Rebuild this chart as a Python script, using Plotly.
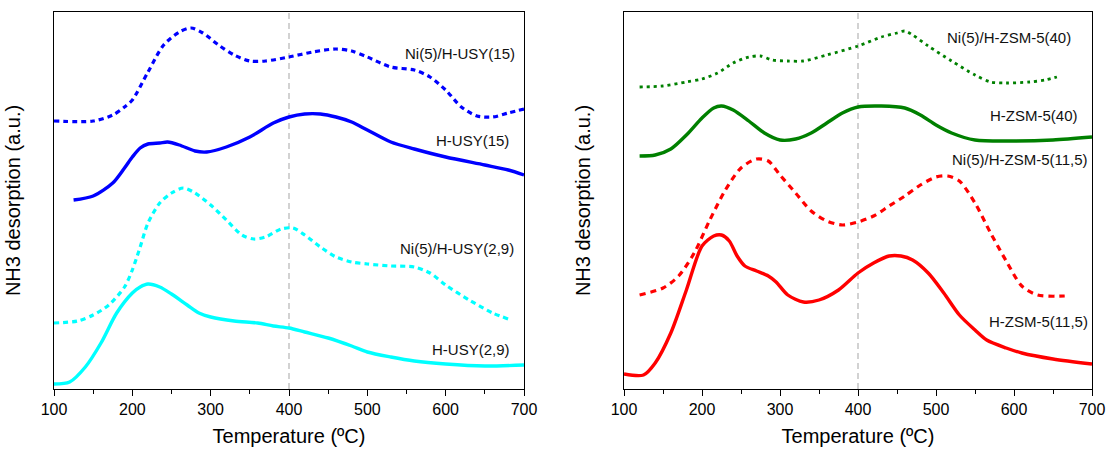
import plotly.graph_objects as go

# ---------------- Left panel: USY ----------------
T_niusy15 = [100, 150, 175, 190, 200, 220, 240, 260, 275, 290, 310, 330, 350, 370, 400, 430, 460, 480, 500, 530, 560, 580, 600, 620, 640, 660, 680, 700]
y_niusy15 = [268, 268, 274, 282, 289, 317, 344, 357, 361, 356, 344, 334, 328, 328, 332, 337, 340, 338, 332, 322, 319, 312, 299, 282, 273, 272, 276, 280]

T_usy15 = [125, 150, 175, 190, 200, 210, 220, 235, 245, 260, 280, 295, 320, 350, 380, 400, 420, 440, 460, 480, 500, 530, 560, 600, 650, 680, 700]
y_usy15 = [189, 193, 206, 221, 232, 241, 245, 246, 247, 244, 238, 237, 242, 252, 266, 272, 275, 275, 272, 267, 259, 247, 240, 232, 224, 219, 214]

T_niusy29 = [100, 130, 150, 170, 190, 200, 210, 220, 235, 250, 265, 280, 300, 320, 340, 355, 370, 390, 405, 420, 440, 460, 480, 500, 530, 560, 580, 600, 630, 660, 680]
y_niusy29 = [66, 68, 74, 84, 102, 119, 142, 166, 186, 196, 201, 196, 184, 169, 154, 150, 152, 160, 161, 154, 142, 132, 127, 125, 123, 122, 116, 104, 89, 76, 70]

T_usy29 = [100, 120, 140, 160, 180, 200, 210, 220, 235, 250, 270, 285, 300, 330, 360, 380, 400, 420, 450, 480, 500, 530, 560, 600, 650, 700]
y_usy29 = [5, 7, 22, 46, 76, 96, 102, 105, 102, 95, 84, 76, 72, 68, 66, 63, 61, 57, 51, 43, 37, 32, 28, 25, 23, 24]

# ---------------- Right panel: ZSM-5 ----------------
T_nizsm40 = [120, 150, 180, 200, 220, 240, 260, 275, 290, 310, 330, 360, 400, 430, 450, 460, 470, 490, 520, 550, 570, 590, 620, 640, 655]
y_nizsm40 = [302, 303, 307, 310, 316, 326, 332, 333, 329, 328, 328, 334, 343, 352, 356, 358, 354, 343, 328, 314, 307, 306, 307, 309, 312]

T_zsm40 = [120, 140, 160, 180, 200, 215, 225, 240, 260, 280, 300, 320, 340, 360, 380, 400, 430, 460, 480, 500, 520, 550, 600, 650, 700]
y_zsm40 = [233, 234, 240, 254, 271, 281, 283, 279, 268, 256, 249, 250, 256, 266, 276, 282, 283, 281, 274, 264, 256, 249, 248, 249, 252]

T_nizsm115 = [120, 150, 170, 190, 210, 230, 250, 270, 285, 300, 320, 340, 360, 380, 400, 420, 440, 460, 480, 500, 515, 530, 550, 570, 590, 610, 630, 665]
y_nizsm115 = [94, 101, 113, 136, 169, 199, 221, 230, 228, 214, 196, 178, 168, 164, 167, 173, 183, 193, 204, 212, 213, 208, 186, 156, 128, 103, 94, 93]

T_zsm115 = [100, 125, 140, 160, 180, 200, 215, 225, 235, 245, 255, 270, 285, 295, 310, 330, 350, 375, 400, 420, 440, 455, 470, 490, 510, 530, 550, 565, 590, 610, 650, 700]
y_zsm115 = [15, 14, 26, 56, 99, 143, 153, 154, 148, 133, 123, 118, 113, 107, 94, 87, 89, 99, 116, 126, 133, 133, 129, 116, 96, 74, 59, 49, 41, 36, 30, 25]

x_ticks = [100, 200, 300, 400, 500, 600, 700]

FONT = "Liberation Sans, Arial, sans-serif"
W, H = 1108, 453

fig = go.Figure()

def add(T, y, color, dash, width, ax):
    fig.add_trace(go.Scatter(x=T, y=y, mode="lines", xaxis="x" + ax, yaxis="y" + ax,
                             line=dict(color=color, dash=dash, width=width, shape="spline", smoothing=0.8),
                             showlegend=False, hoverinfo="skip"))

add(T_niusy15, y_niusy15, "#0000FF", "5px,4px", 3.2, "")
add(T_usy15, y_usy15, "#0000FF", "solid", 3.4, "")
add(T_niusy29, y_niusy29, "#00FFFF", "5px,4px", 3.2, "")
add(T_usy29, y_usy29, "#00FFFF", "solid", 3.4, "")

add(T_nizsm40, y_nizsm40, "#008000", "3px,4px", 2.8, "2")
add(T_zsm40, y_zsm40, "#008000", "solid", 3.4, "2")
add(T_nizsm115, y_nizsm115, "#FF0000", "6px,5px", 3.2, "2")
add(T_zsm115, y_zsm115, "#FF0000", "solid", 3.4, "2")

# vertical reference line at 400 °C
for xref, yref in (("x", "y"), ("x2", "y2")):
    fig.add_shape(type="line", xref=xref, yref=yref + " domain", x0=400, x1=400, y0=0, y1=1,
                  line=dict(color="#BBBBBB", width=1.3, dash="6px,4px"), layer="below")

labels = [
    ("x", "y", 691, 336, "Ni(5)/H-USY(15)"),
    ("x", "y", 684, 249, "H-USY(15)"),
    ("x", "y", 690, 141, "Ni(5)/H-USY(2,9)"),
    ("x", "y", 685, 40, "H-USY(2,9)"),
    ("x2", "y2", 676, 352, "Ni(5)/H-ZSM-5(40)"),
    ("x2", "y2", 685, 274, "H-ZSM-5(40)"),
    ("x2", "y2", 697, 230, "Ni(5)/H-ZSM-5(11,5)"),
    ("x2", "y2", 697, 68, "H-ZSM-5(11,5)"),
]
for xr, yr, xx, yy, txt in labels:
    fig.add_annotation(xref=xr, yref=yr, x=xx, y=yy, text=txt, showarrow=False,
                       xanchor="right", yanchor="middle",
                       font=dict(family=FONT, size=15, color="#111111"))

def xaxis(domain, anchor):
    return dict(domain=domain, anchor=anchor, range=[100, 700], tickvals=x_ticks, ticks="outside",
                ticklen=6, tickwidth=1.3, tickcolor="black", showline=True, linecolor="black",
                linewidth=1.3, mirror=True, showgrid=False, zeroline=False, automargin=False,
                minor=dict(dtick=50, tick0=100, ticks="outside", ticklen=4, tickwidth=1.1, tickcolor="black"),
                tickfont=dict(family=FONT, size=16, color="black"),
                title=dict(text="Temperature (ºC)", font=dict(family=FONT, size=20, color="black"), standoff=11))

def yaxis(domain, anchor):
    return dict(domain=domain, anchor=anchor, range=[0, 377], showline=True, linecolor="black",
                linewidth=1.3, mirror=True, showticklabels=False, ticks="", showgrid=False,
                zeroline=False, automargin=False,
                title=dict(text="NH3 desorption (a.u.)", font=dict(family=FONT, size=20, color="black"), standoff=26))

ydom = [(H - 389) / H, (H - 12) / H]
fig.update_layout(
    width=W, height=H, margin=dict(l=0, r=0, t=0, b=0),
    plot_bgcolor="white", paper_bgcolor="white",
    xaxis=xaxis([54 / W, 524 / W], "y"),
    yaxis=yaxis(ydom, "x"),
    xaxis2=xaxis([624 / W, 1092 / W], "y2"),
    yaxis2=yaxis(ydom, "x2"),
)

fig.write_html("out.html")
